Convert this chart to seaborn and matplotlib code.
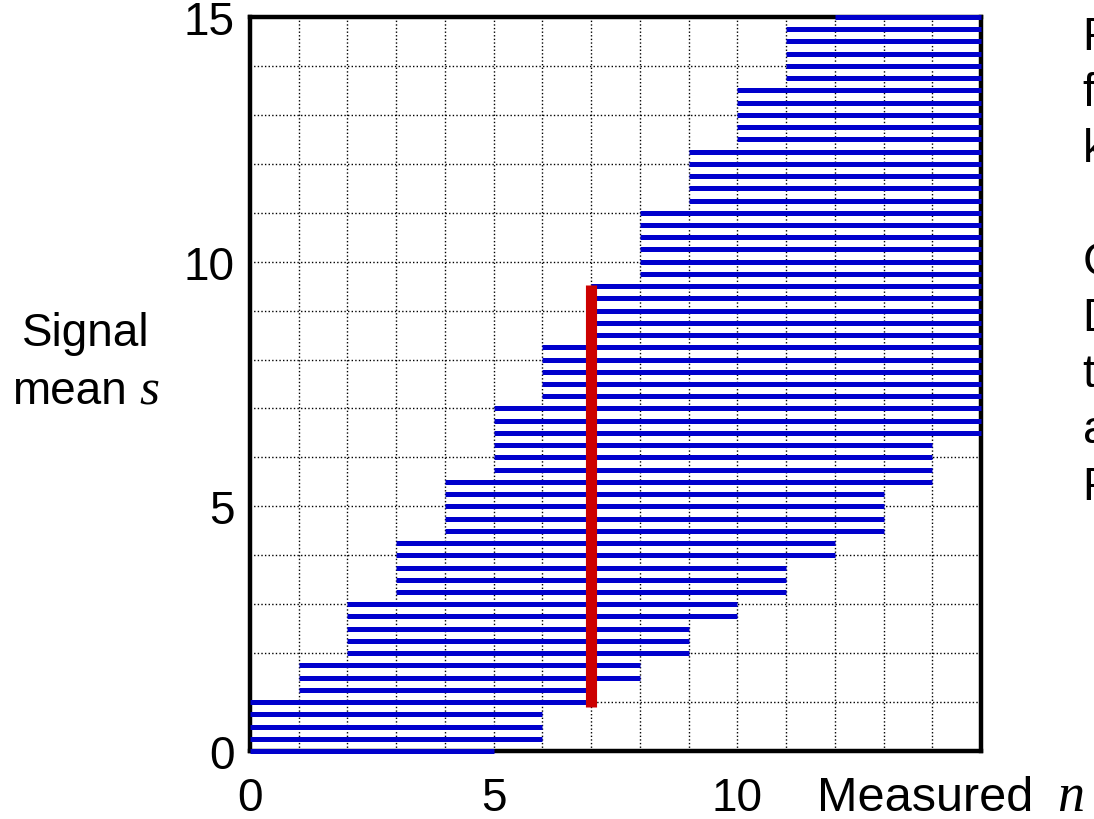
import matplotlib
matplotlib.use("Agg")
import matplotlib.pyplot as plt
import numpy as np
import pandas as pd
import seaborn as sns

# ---- data -------------------------------------------------------------
s_values = [0.0, 0.25, 0.5, 0.75, 1.0, 1.25, 1.5, 1.75, 2.0, 2.25, 2.5, 2.75,
            3.0, 3.25, 3.5, 3.75, 4.0, 4.25, 4.5, 4.75, 5.0, 5.25, 5.5, 5.75,
            6.0, 6.25, 6.5, 6.75, 7.0, 7.25, 7.5, 7.75, 8.0, 8.25, 8.5, 8.75,
            9.0, 9.25, 9.5, 9.75, 10.0, 10.25, 10.5, 10.75, 11.0, 11.25, 11.5,
            11.75, 12.0, 12.25, 12.5, 12.75, 13.0, 13.25, 13.5, 13.75, 14.0,
            14.25, 14.5, 14.75, 15.0]
n_low = [0, 0, 0, 0, 0,
         1, 1, 1,
         2, 2, 2, 2, 2,
         3, 3, 3, 3, 3,
         4, 4, 4, 4, 4,
         5, 5, 5, 5, 5, 5,
         6, 6, 6, 6, 6,
         7, 7, 7, 7, 7,
         8, 8, 8, 8, 8, 8,
         9, 9, 9, 9, 9,
         10, 10, 10, 10, 10,
         11, 11, 11, 11, 11,
         12]
n_high = [5,
          6, 6, 6,
          7, 7,
          8, 8,
          9, 9, 9,
          10, 10,
          11, 11, 11,
          12, 12,
          13, 13, 13, 13,
          14, 14, 14, 14,
          15, 15, 15, 15, 15, 15, 15, 15, 15, 15, 15, 15, 15, 15, 15, 15, 15,
          15, 15, 15, 15, 15, 15, 15, 15, 15, 15, 15, 15, 15, 15, 15, 15, 15,
          15]
measured_n = 7
interval_s = [0.89, 9.53]

x_tick_labels = ["0", "5", "10"]
y_tick_labels = ["0", "5", "10", "15"]
side_lines = ["For each s, find the", "fixed-s acceptance", "keeping 90% of n", "",
              "Confidence belt:", "Draw vertical line", "through measured n", "and read off the",
              "Feldman-Cousins interval"]

# ---- long-form tables ---------------------------------------------------
rows = []
for i, (s, lo, hi) in enumerate(zip(s_values, n_low, n_high)):
    rows.append({"seg": i, "n": lo, "s": s})
    rows.append({"seg": i, "n": hi, "s": s})
belt = pd.DataFrame(rows)
red = pd.DataFrame({"seg": [0, 0], "n": [measured_n, measured_n], "s": interval_s})

# ---- style --------------------------------------------------------------
sns.set_theme(style="white")
plt.rcParams["font.family"] = ["Liberation Sans", "DejaVu Sans"]
plt.rcParams["text.color"] = "black"
plt.rcParams["axes.labelcolor"] = "black"
plt.rcParams["xtick.color"] = "black"
plt.rcParams["ytick.color"] = "black"
plt.rcParams["mathtext.fontset"] = "custom"
plt.rcParams["mathtext.it"] = "Liberation Serif:italic"
plt.rcParams["mathtext.rm"] = "Liberation Sans"

W, H = 1094, 820
fig = plt.figure(figsize=(W / 100, H / 100), dpi=100)
fig.patch.set_facecolor("white")
ax = fig.add_axes([250 / W, 1 - 752 / H, 731 / W, 734 / H])
ax.set_facecolor("white")

sns.lineplot(data=belt, x="n", y="s", units="seg", estimator=None, sort=False,
             color="#0000CC", linewidth=3.6, solid_capstyle="butt",
             clip_on=False, zorder=4, ax=ax, legend=False)
sns.lineplot(data=red, x="n", y="s", units="seg", estimator=None, sort=False,
             color="#CC0000", linewidth=8, solid_capstyle="butt",
             zorder=5, ax=ax, legend=False)

ax.set_xlim(0, 15)
ax.set_ylim(0, 15)
ax.set_xlabel("")
ax.set_ylabel("")

ticks = list(range(16))
ax.set_xticks(ticks)
ax.set_yticks(ticks)
ax.set_xticklabels([x_tick_labels[t // 5] if t % 5 == 0 and t // 5 < len(x_tick_labels) else "" for t in ticks])
ax.set_yticklabels([y_tick_labels[t // 5] if t % 5 == 0 else "" for t in ticks])
ax.tick_params(axis="both", length=0, labelsize=33, colors="black")
ax.tick_params(axis="x", pad=18)
ax.tick_params(axis="y", pad=11)

ax.set_axisbelow(True)
ax.grid(True, color="black", linestyle=(0, (1, 1.6)), linewidth=1.0)

for sp in ax.spines.values():
    sp.set_visible(True)
    sp.set_color("black")
    sp.set_linewidth(3.2)
    sp.set_zorder(3)

# axis titles
fig.text(86 / W, 1 - 346 / H, "Signal", ha="center", va="baseline", fontsize=33)
fig.text(12 / W, 1 - 404 / H, "mean", ha="left", va="baseline", fontsize=33)
fig.text(139 / W, 1 - 404 / H, "$s$", ha="left", va="baseline", fontsize=37)
fig.text(817 / W, 1 - 811 / H, "Measured", ha="left", va="baseline", fontsize=35)
fig.text(1057 / W, 1 - 811 / H, "$n$", ha="left", va="baseline", fontsize=39)

# side text (runs off the right edge)
for k, line in enumerate(side_lines):
    if line:
        fig.text(1083 / W, 1 - (50 + 56.2 * k) / H, line, ha="left",
                 va="baseline", fontsize=33)

fig.savefig("out.png", dpi=100)
